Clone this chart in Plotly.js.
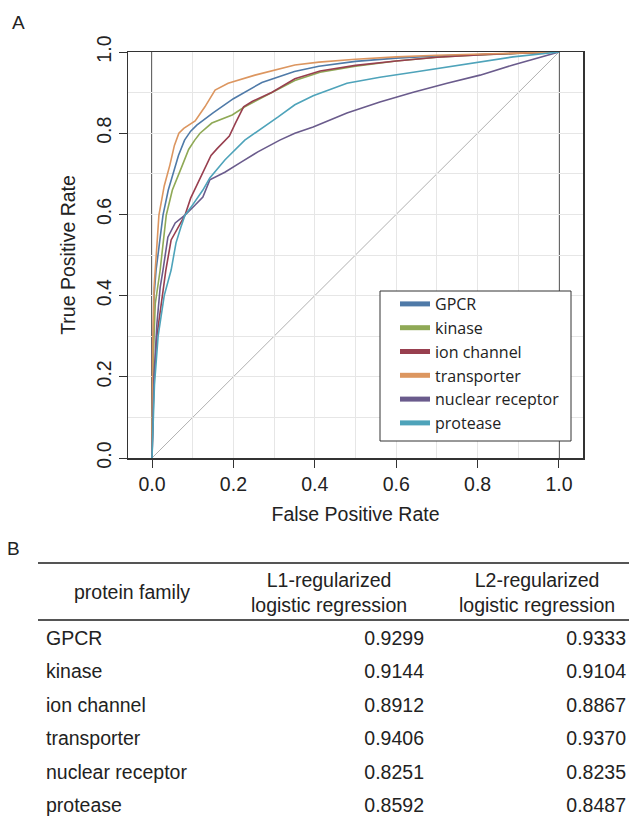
<!DOCTYPE html>
<html>
<head>
<meta charset="utf-8">
<script src="https://cdn.plot.ly/plotly-3.0.1.min.js"></script>
<style>
  html, body { margin: 0; padding: 0; overflow: hidden; background: #fff; }
  #chart { width: 640px; height: 830px; }
</style>
</head>
<body>
<div id="chart"></div>
<script>
// ---------- ROC curve data ----------
const seriesNames = ['GPCR', 'kinase', 'ion channel', 'transporter', 'nuclear receptor', 'protease'];
const seriesColors = ['#4f7aa8', '#8fa956', '#983f4f', '#dc9660', '#6a5b8c', '#4ea3ba'];

const fprGPCR = [0,0.002,0.005,0.01,0.027,0.04,0.052,0.065,0.08,0.095,0.11,0.13,0.15,0.2,0.27,0.35,0.41,0.5,0.6,0.7,0.8,0.9,1];
const tprGPCR = [0,0.25,0.4,0.463,0.598,0.66,0.70,0.745,0.783,0.805,0.82,0.835,0.85,0.885,0.925,0.952,0.965,0.977,0.985,0.99,0.994,0.997,1];

const fprKinase = [0,0.003,0.008,0.02,0.035,0.05,0.073,0.09,0.105,0.118,0.147,0.197,0.228,0.295,0.351,0.413,0.5,0.6,0.7,0.8,0.9,1];
const tprKinase = [0,0.25,0.38,0.463,0.598,0.66,0.717,0.76,0.783,0.80,0.825,0.845,0.865,0.9,0.93,0.95,0.965,0.978,0.987,0.993,0.997,1];

const fprIon = [0,0.004,0.012,0.025,0.034,0.047,0.064,0.081,0.095,0.113,0.133,0.145,0.16,0.175,0.19,0.205,0.225,0.246,0.295,0.351,0.413,0.5,0.6,0.7,0.8,0.9,1];
const tprIon = [0,0.18,0.3,0.4,0.463,0.537,0.569,0.598,0.64,0.677,0.717,0.745,0.762,0.778,0.793,0.825,0.865,0.878,0.901,0.934,0.953,0.967,0.978,0.987,0.993,0.997,1];

const fprTransporter = [0,0.002,0.005,0.008,0.017,0.03,0.044,0.055,0.066,0.078,0.09,0.106,0.13,0.155,0.187,0.253,0.351,0.41,0.5,0.6,0.7,0.8,0.9,1];
const tprTransporter = [0,0.3,0.42,0.463,0.598,0.67,0.722,0.77,0.80,0.812,0.82,0.83,0.865,0.906,0.923,0.943,0.968,0.975,0.982,0.988,0.992,0.995,0.998,1];

const fprNuclear = [0,0.005,0.012,0.02,0.027,0.039,0.057,0.081,0.106,0.125,0.142,0.179,0.221,0.26,0.314,0.351,0.396,0.479,0.56,0.642,0.725,0.806,0.887,1];
const tprNuclear = [0,0.2,0.33,0.42,0.463,0.544,0.579,0.598,0.623,0.643,0.685,0.704,0.73,0.754,0.783,0.80,0.815,0.85,0.877,0.901,0.923,0.943,0.968,1];

const fprProtease = [0,0.006,0.015,0.03,0.047,0.059,0.071,0.081,0.096,0.125,0.142,0.179,0.228,0.253,0.31,0.351,0.396,0.479,0.56,0.642,0.725,0.806,0.887,1];
const tprProtease = [0,0.18,0.3,0.4,0.463,0.53,0.569,0.598,0.618,0.66,0.69,0.734,0.783,0.80,0.84,0.87,0.892,0.923,0.938,0.95,0.963,0.975,0.988,1];

const xTickVals = [0, 0.2, 0.4, 0.6, 0.8, 1.0];
const yTickVals = [0, 0.2, 0.4, 0.6, 0.8, 1.0];

// ---------- Table data ----------
const headerLabels = ['protein family', 'L1-regularized<br>logistic regression', 'L2-regularized<br>logistic regression'];
const families = ['GPCR', 'kinase', 'ion channel', 'transporter', 'nuclear receptor', 'protease'];
const aucL1 = [0.9299, 0.9144, 0.8912, 0.9406, 0.8251, 0.8592];
const aucL2 = [0.9333, 0.9104, 0.8867, 0.9370, 0.8235, 0.8487];

// ---------- Layout geometry ----------
const W = 640, H = 830;
const px = v => v / W;
const py = v => 1 - v / H;

const fprs = [fprGPCR, fprKinase, fprIon, fprTransporter, fprNuclear, fprProtease];
const tprs = [tprGPCR, tprKinase, tprIon, tprTransporter, tprNuclear, tprProtease];

const traces = seriesNames.map((name, i) => ({
  type: 'scatter', mode: 'lines', name: name,
  x: fprs[i], y: tprs[i],
  line: { color: seriesColors[i], width: 1.6 },
  hoverinfo: 'skip'
}));

const textFont = 'Liberation Sans, Arial, sans-serif';
const FS = 19.5;
traces.push({
  type: 'table',
  domain: { x: [px(38), px(634)], y: [0, py(563)] },
  columnwidth: [188, 206, 202],
  header: {
    values: ['', '', ''],
    height: 59,
    line: { width: 0, color: 'rgba(0,0,0,0)' },
    fill: { color: 'rgba(0,0,0,0)' },
    font: { family: textFont, size: FS, color: '#222' }
  },
  cells: {
    values: [families, aucL1, aucL2],
    format: ['', '.4f', '.4f'],
    align: ['left', 'right', 'right'],
    height: 33.5,
    line: { width: 0, color: 'rgba(0,0,0,0)' },
    fill: { color: 'rgba(0,0,0,0)' },
    font: { family: textFont, size: FS, color: '#222' }
  }
});

const headerX = [132, 329, 537];
const headerAnn = headerLabels.map((t, i) => ({
  text: t, xref: 'paper', yref: 'paper', x: px(headerX[i]), y: py(592),
  showarrow: false, xanchor: 'center', yanchor: 'middle', align: 'center',
  font: { family: textFont, size: FS, color: '#222' }
}));

const layout = {
  width: W, height: H,
  margin: { l: 0, r: 0, t: 0, b: 0 },
  paper_bgcolor: '#fff', plot_bgcolor: '#fff',
  showlegend: true,
  font: { family: textFont, color: '#222' },
  xaxis: {
    domain: [px(128), px(583)],
    range: [-0.059, 1.059],
    tickvals: xTickVals, tickformat: '.1f',
    ticks: 'outside', ticklen: 8, tickcolor: '#333', tickwidth: 1,
    tickfont: { size: FS, color: '#222' },
    showgrid: true, gridcolor: '#e6e6e6', gridwidth: 1,
    minor: { dtick: 0.1, tick0: 0, showgrid: true, gridcolor: '#e6e6e6', gridwidth: 1, ticklen: 0 },
    zeroline: false,
    showline: true, mirror: true, linecolor: '#333', linewidth: 1.5,
    title: { text: 'False Positive Rate', font: { size: FS, color: '#222' }, standoff: 13 },
    fixedrange: true
  },
  yaxis: {
    domain: [py(458), py(52)],
    range: [0, 1],
    tickvals: yTickVals, tickformat: '.1f',
    tickangle: -90,
    ticks: 'outside', ticklen: 8, tickcolor: '#333', tickwidth: 1,
    tickfont: { size: FS, color: '#222' },
    showgrid: true, gridcolor: '#e6e6e6', gridwidth: 1,
    minor: { dtick: 0.1, tick0: 0, showgrid: true, gridcolor: '#e6e6e6', gridwidth: 1, ticklen: 0 },
    zeroline: false,
    showline: true, mirror: true, linecolor: '#333', linewidth: 1.5,
    title: { text: 'True Positive Rate', font: { size: FS, color: '#222' }, standoff: 12 },
    fixedrange: true
  },
  legend: {
    x: px(395), xanchor: 'left',
    y: py(287), yanchor: 'top',
    bgcolor: 'rgba(0,0,0,0)', borderwidth: 0,
    font: { family: 'Open Sans, Noto Sans, sans-serif', size: 16, color: '#222' },
    itemsizing: 'constant',
    tracegroupgap: 0
  },
  shapes: [
    // reference lines: chance diagonal and verticals at FPR = 0 and 1
    { type: 'line', xref: 'x', yref: 'y', x0: 0, y0: 0, x1: 1, y1: 1, line: { color: '#b0b0b0', width: 1 }, layer: 'below' },
    { type: 'line', xref: 'x', yref: 'y', x0: 0, y0: 0, x1: 0, y1: 1, line: { color: '#333', width: 1.5 }, layer: 'below' },
    { type: 'line', xref: 'x', yref: 'y', x0: 1, y0: 0, x1: 1, y1: 1, line: { color: '#333', width: 1.5 }, layer: 'below' },
    // legend frame
    { type: 'rect', xref: 'paper', yref: 'paper', x0: px(380), x1: px(571), y0: py(291), y1: py(441), line: { color: '#333', width: 1 }, fillcolor: '#fff', layer: 'above' },
    // table rules
    { type: 'line', xref: 'paper', yref: 'paper', x0: px(38), x1: 1, y0: py(563), y1: py(563), line: { color: '#555', width: 2.2 } },
    { type: 'line', xref: 'paper', yref: 'paper', x0: px(38), x1: 1, y0: py(620), y1: py(620), line: { color: '#555', width: 2.2 } }
  ],
  annotations: [
    { text: 'A', xref: 'paper', yref: 'paper', x: px(18), y: py(23), showarrow: false, xanchor: 'center', yanchor: 'middle', font: { size: 19, color: '#222' } },
    { text: 'B', xref: 'paper', yref: 'paper', x: px(13), y: py(548), showarrow: false, xanchor: 'center', yanchor: 'middle', font: { size: 19, color: '#222' } }
  ].concat(headerAnn)
};

Plotly.newPlot('chart', traces, layout, { displayModeBar: false, staticPlot: true });
</script>
</body>
</html>
